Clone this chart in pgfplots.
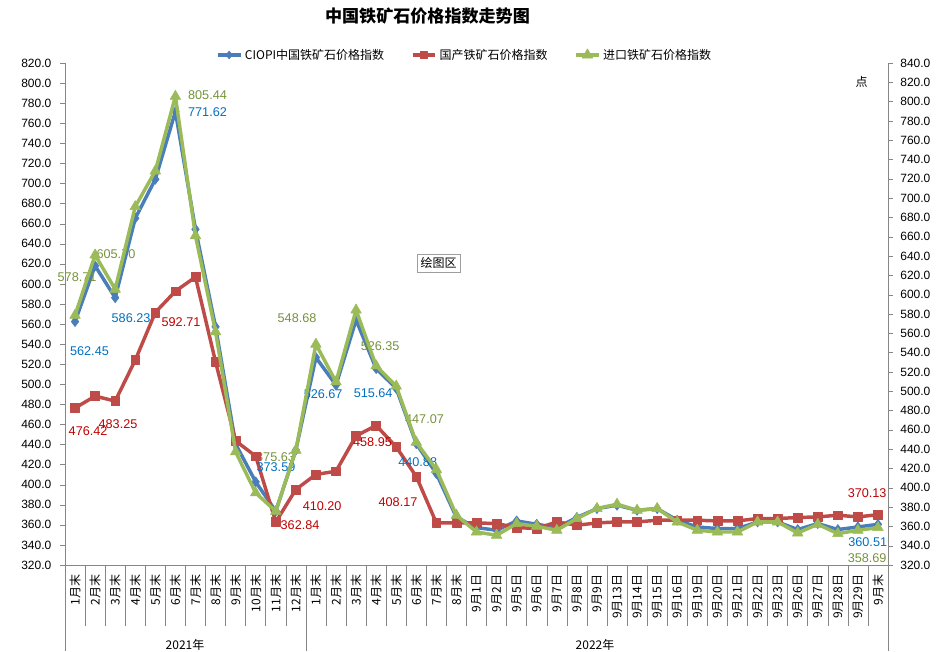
\documentclass[border=0pt]{standalone}
\usepackage{fontspec}
\setmainfont{Liberation Sans}
\newfontfamily\cjk{Noto Sans CJK SC}
\usepackage{pgfplots}
\pgfplotsset{compat=1.18}

\definecolor{ciopi}{RGB}{74,126,187}
\definecolor{domestic}{RGB}{190,75,72}
\definecolor{imported}{RGB}{155,187,89}
\definecolor{ciopitxt}{RGB}{0,112,192}
\definecolor{domtxt}{RGB}{192,0,0}
\definecolor{imptxt}{RGB}{118,146,60}
\definecolor{axgray}{RGB}{134,134,134}

% index = category position (0..40)
\pgfplotstableread{
idx ciopi domestic imported
0  562.45 476.42 578.71
1  618.0  488.2  641.1
2  586.23 483.25 605.70
3  665.4  524.1  691.2
4  704.2  571.6  728.2
5  771.62 592.71 805.44
6  654.4  606.8  661.1
7  557.3  522.4  561.6
8  440.5  443.6  437.2
9  402.8  428.4  394.7
10 373.59 362.84 375.63
11 434.4  395.2  438.9
12 526.67 410.20 548.68
13 499.2  413.4  509.7
14 564.0  448.6  584.1
15 515.64 458.95 526.35
16 495.9  437.6  505.3
17 440.88 408.17 447.07
18 411.1  361.9  418.9
19 367.5  361.9  371.5
20 357.3  361.9  354.2
21 354.6  361.3  350.8
22 363.9  357.3  362.9
23 360.6  356.3  360.1
24 357.3  362.9  356.0
25 367.3  359.6  368.1
26 376.2  361.9  378.5
27 379.5  362.9  383.0
28 374.5  362.9  376.7
29 376.2  364.6  378.5
30 364.6  364.6  364.6
31 357.9  364.6  356.0
32 356.3  363.9  354.2
33 356.3  363.9  354.2
34 362.9  366.3  364.6
35 362.9  366.3  364.6
36 355.3  367.3  353.2
37 361.3  367.9  362.2
38 355.3  369.6  352.5
39 357.9  367.9  356.0
40 360.51 370.13 358.69
}\datatable

\pgfplotsset{
  base/.style={
    at={(48.75pt,64.5pt)}, anchor=south west,
    width=617.25pt, height=376.5pt, scale only axis,
    xmin=-0.5, xmax=40.5, clip=false,
    axis line style={-, axgray},
    major tick length=3.75pt, tick align=outside,
    ytick style={axgray},
    y tick label style={font=\fontsize{9}{10}\selectfont,
      /pgf/number format/fixed, /pgf/number format/fixed zerofill,
      /pgf/number format/precision=1, /pgf/number format/assume math mode=true},
  },
  ser/.style={line width=2.6pt, line join=round, mark options={solid, line width=0.4pt}},
}

\begin{document}
\begin{tikzpicture}
\useasboundingbox (0,0) rectangle (711pt,488.25pt);

\begin{axis}[base,
  ymin=320, ymax=820, ytick={320,340,...,820},
  y tick label style={xshift=-3pt},
  axis x line*=bottom, axis y line*=left,
  xtick={0,...,40}, xtick style={draw=none},
  xticklabels={1月末,2月末,3月末,4月末,5月末,6月末,7月末,8月末,9月末,10月末,11月末,12月末,
    1月末,2月末,3月末,4月末,5月末,6月末,7月末,8月末,
    9月1日,9月2日,9月5日,9月6日,9月7日,9月8日,9月9日,9月13日,9月14日,9月15日,
    9月16日,9月19日,9月20日,9月21日,9月22日,9月23日,9月26日,9月27日,9月28日,9月29日,9月末},
  x tick label style={rotate=90, anchor=east, font=\cjk\fontsize{9}{10}\selectfont},
]
\addplot[ser, color=ciopi, mark=diamond*, mark size=3.8pt] table[x=idx, y=ciopi] {\datatable};
\addplot[ser, color=domestic, mark=square*, mark size=3.3pt] table[x=idx, y=domestic] {\datatable};

\begin{scope}[font=\fontsize{9.5}{10}\selectfont]
\node[text=ciopitxt] at (axis cs:6.60,771.3) {771.62};
\node[text=ciopitxt] at (axis cs:0.72,533.4) {562.45};
\node[text=ciopitxt] at (axis cs:2.79,565.7) {586.23};
\node[text=ciopitxt] at (axis cs:10.01,417.7) {373.59};
\node[text=ciopitxt] at (axis cs:12.36,489.9) {526.67};
\node[text=ciopitxt] at (axis cs:14.85,490.9) {515.64};
\node[text=ciopitxt] at (axis cs:17.07,422.7) {440.88};
\node[text=ciopitxt] at (axis cs:39.49,342.9) {360.51};

\node[text=imptxt] at (axis cs:6.60,787.6) {805.44};
\node[text=imptxt] at (axis cs:0.10,607.1) {578.71};
\node[text=imptxt] at (axis cs:2.04,629.5) {605.70};
\node[text=imptxt] at (axis cs:11.06,565.7) {548.68};
\node[text=imptxt] at (axis cs:9.99,427.1) {375.63};
\node[text=imptxt] at (axis cs:15.2,538.3) {526.35};
\node[text=imptxt] at (axis cs:17.41,465.0) {447.07};
\node[text=imptxt] at (axis cs:39.46,327.0) {358.69};

\node[text=domtxt] at (axis cs:5.28,562.3) {592.71};
\node[text=domtxt] at (axis cs:0.65,453.3) {476.42};
\node[text=domtxt] at (axis cs:2.14,460.0) {483.25};
\node[text=domtxt] at (axis cs:11.21,359.6) {362.84};
\node[text=domtxt] at (axis cs:12.31,378.8) {410.20};
\node[text=domtxt] at (axis cs:14.82,442.0) {458.95};
\node[text=domtxt] at (axis cs:16.09,382.8) {408.17};
\node[text=domtxt] at (axis cs:39.46,391.8) {370.13};
\end{scope}

\node[draw=axgray!80, fill=white, inner sep=2.5pt, font=\cjk\fontsize{9}{10}\selectfont]
  at (axis cs:18.11,620.8) {绘图区};
\end{axis}

\begin{axis}[base,
  ymin=320, ymax=840, ytick={320,340,...,840},
  y tick label style={xshift=2pt},
  axis y line*=right, hide x axis,
  legend style={draw=none, fill=none, at={(0.486,1.016)}, anchor=center,
    legend columns=3, font=\cjk\fontsize{9}{10}\selectfont,
    /tikz/every even column/.append style={column sep=18pt}},
]
\addlegendimage{ser, color=ciopi, mark=diamond*, mark size=3pt}
\addlegendentry{CIOPI中国铁矿石价格指数}
\addlegendimage{ser, color=domestic, mark=square*, mark size=2.6pt}
\addlegendentry{国产铁矿石价格指数}
\addplot[ser, color=imported, mark=triangle*, mark size=4.6pt] table[x=idx, y=imported] {\datatable};
\addlegendentry{进口铁矿石价格指数}
\end{axis}

% category separators below the axis
\foreach \k in {1,...,40}
  \draw[axgray] ({48.75pt+\k*15.0549pt},64.5pt) -- ++(0,-45.75pt);
\foreach \xx in {48.75pt,229.41pt,666pt}
  \draw[axgray] (\xx,64.5pt) -- (\xx,0pt);

\node[font=\cjk\fontsize{9}{10}\selectfont] at (138.75pt,4.8pt) {2021年};
\node[font=\cjk\fontsize{9}{10}\selectfont] at (446.25pt,4.8pt) {2022年};

\node[font=\cjk\bfseries\fontsize{12.8}{13}\selectfont] at (320.6pt,476.5pt) {中国铁矿石价格指数走势图};
\node[font=\cjk\fontsize{9}{10}\selectfont] at (646.3pt,427pt) {点};
\end{tikzpicture}
\end{document}
